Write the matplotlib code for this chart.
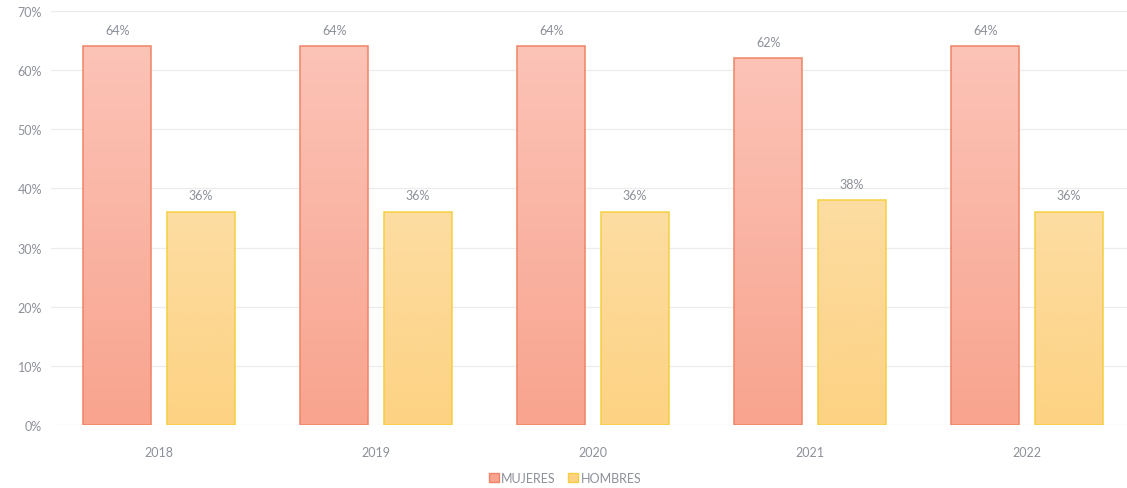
import numpy as np
import matplotlib
matplotlib.use("Agg")
import matplotlib.pyplot as plt
from matplotlib.patches import Patch
from matplotlib.colors import LinearSegmentedColormap

# Data
years = ["2018", "2019", "2020", "2021", "2022"]
mujeres = [64, 64, 64, 62, 64]
hombres = [36, 36, 36, 38, 36]
series_names = ["MUJERES", "HOMBRES"]
y_ticks = [0, 10, 20, 30, 40, 50, 60, 70]

plt.rcParams["font.family"] = ["Lato", "DejaVu Sans"]
text_color = "#8c9099"

fig = plt.figure(figsize=(11.27, 4.89), dpi=100)
ax = fig.add_axes([50.5 / 1127, 63 / 489, 1085 / 1127, 414 / 489])

x = np.arange(len(years))
width = 0.313
offset = 0.192

styles = [
    # (top colour, bottom colour, edge colour)
    ("#fcc3b7", "#f8a48e", "#f08468"),
    ("#fddda2", "#fdd283", "#f5cf40"),
]

def gradient_bars(xpos, values, top_c, bot_c, edge_c):
    bars = ax.bar(xpos, values, width, color=bot_c, edgecolor="none",
                  linewidth=0, zorder=3)
    cmap = LinearSegmentedColormap.from_list("g", [bot_c, top_c])
    grad = np.linspace(0, 1, 256).reshape(-1, 1)
    for b in bars:
        x0, y0 = b.get_x(), b.get_y()
        w, h = b.get_width(), b.get_height()
        im = ax.imshow(grad, cmap=cmap, aspect="auto", origin="lower",
                       extent=[x0, x0 + w, y0, y0 + h], zorder=3.5)
        im.set_clip_path(b)
        edge = plt.Rectangle((x0, y0), w, h, fill=False, edgecolor=edge_c,
                             linewidth=1.1, zorder=4)
        ax.add_patch(edge)
    for xi, v in zip(xpos, values):
        ax.text(xi, v + 1.8, f"{v}%", ha="center", va="bottom",
                fontsize=9, color=text_color, zorder=5)
    return bars

gradient_bars(x - offset, mujeres, *styles[0])
gradient_bars(x + offset, hombres, *styles[1])

ax.set_xlim(-0.5, 4.5)
ax.set_ylim(0, 70)
ax.set_yticks(y_ticks)
ax.set_yticklabels([f"{t}%" for t in y_ticks])
ax.set_xticks(x)
ax.set_xticklabels(years)
ax.tick_params(axis="both", length=0, labelsize=9, labelcolor=text_color)
ax.tick_params(axis="x", pad=15)
ax.tick_params(axis="y", pad=6)
ax.grid(axis="y", color="#ececec", linewidth=0.9, zorder=0)
ax.set_axisbelow(True)
for s in ax.spines.values():
    s.set_visible(False)

handles = [Patch(facecolor="#f8a48e", edgecolor=styles[0][2], label=series_names[0]),
           Patch(facecolor="#fdd283", edgecolor=styles[1][2], label=series_names[1])]
fig.legend(handles=handles, loc="center", bbox_to_anchor=(565 / 1127, 1 - 479 / 489),
           ncol=2, frameon=False, fontsize=9, labelcolor=text_color,
           handlelength=0.8, handleheight=0.8, handletextpad=0.2, columnspacing=1.0)

fig.savefig("out.png", dpi=100)
